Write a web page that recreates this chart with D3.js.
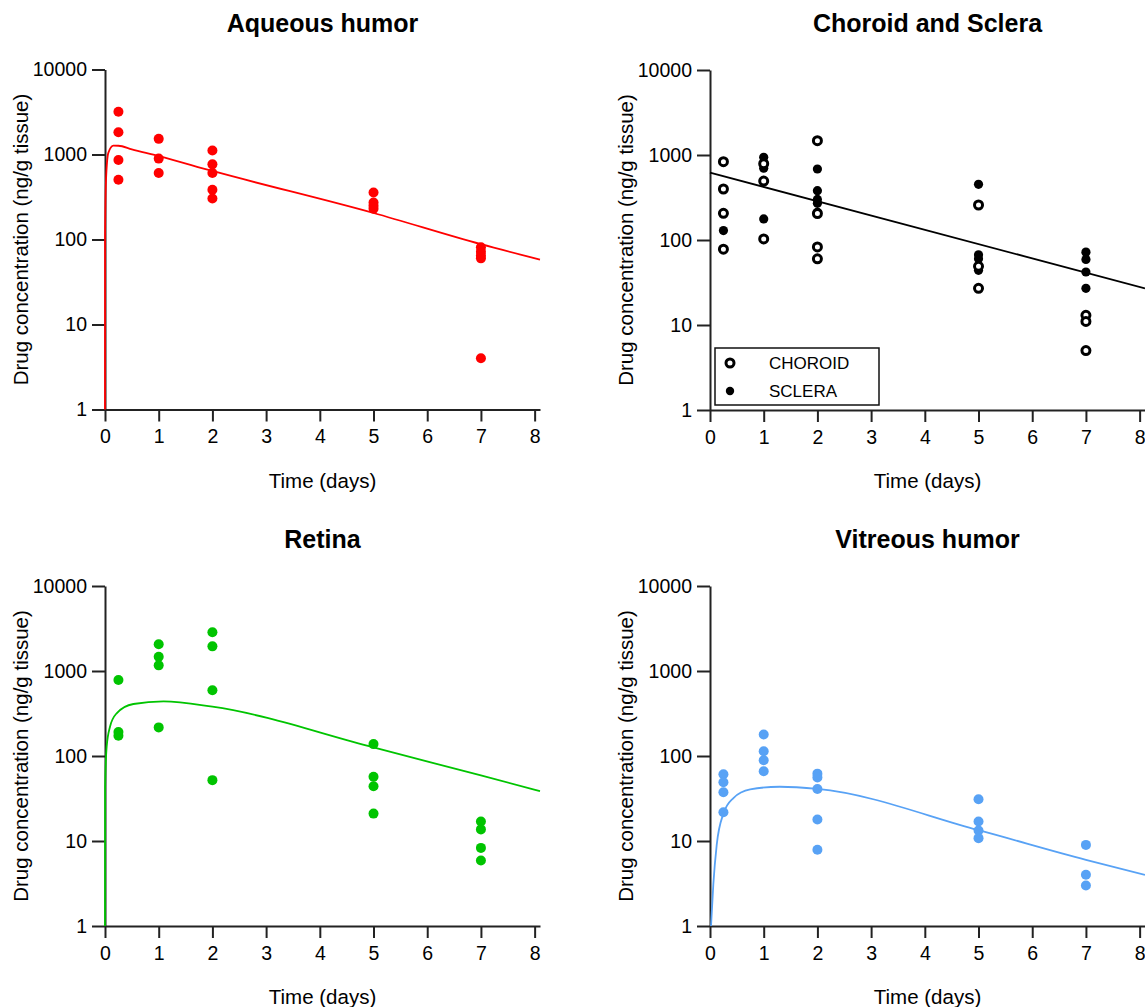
<!DOCTYPE html>
<html>
<head>
<meta charset="utf-8">
<script src="https://cdn.jsdelivr.net/npm/d3@7"></script>
<style>
  body { margin: 0; background: #fff; }
  svg { display: block; font-family: "Liberation Sans", Arial, sans-serif; }
</style>
</head>
<body>
<svg id="chart" width="1145" height="1007"></svg>
<script>
// ---- data: [time (days), ng/g tissue] ----
var yTicks = [1, 10, 100, 1000, 10000];
var xTicks = [0, 1, 2, 3, 4, 5, 6, 7, 8];

var aqueousPts = [
  [0.25, 3185], [0.25, 1830], [0.25, 863], [0.25, 505],
  [1, 1528], [1, 895], [1, 606],
  [2, 1112], [2, 766], [2, 606], [2, 385], [2, 304],
  [5, 358], [5, 273], [5, 250], [5, 230],
  [7, 81], [7, 72], [7, 65], [7, 60], [7, 4]
];
var aqueousFit = [[0, 1], [0.001, 108], [0.019, 506], [0.062, 1045], [0.155, 1270],
  [0.25, 1268], [0.5, 1150], [1, 960], [2, 640], [5, 205], [7, 88], [8.1, 58]];

var choroidPts = [
  [0.25, 834], [0.25, 398], [0.25, 206], [0.25, 78],
  [1, 790], [1, 494], [1, 103],
  [2, 1473], [2, 205], [2, 83], [2, 60],
  [5, 258], [5, 49], [5, 27],
  [7, 13], [7, 11], [7, 5]
];
var scleraPts = [
  [0.25, 129],
  [1, 940], [1, 798], [1, 698], [1, 177],
  [2, 684], [2, 380], [2, 300], [2, 270], [2, 212],
  [5, 452], [5, 67], [5, 60], [5, 44],
  [7, 72], [7, 59], [7, 42], [7, 27]
];
var choroidFit = [[0, 620], [8.1, 27]];

var retinaPts = [
  [0.25, 784], [0.25, 192], [0.25, 173],
  [1, 2061], [1, 1473], [1, 1165], [1, 217],
  [2, 2851], [2, 1950], [2, 593], [2, 52],
  [5, 138], [5, 57], [5, 44], [5, 21],
  [7, 17], [7, 13.7], [7, 8.3], [7, 5.9]
];
var retinaFit = [[0, 1], [0.002, 43], [0.031, 129], [0.093, 221], [0.217, 318],
  [0.528, 409], [1.09, 440], [2, 380], [5, 126], [7, 59], [8.1, 38.7]];

var vitreousPts = [
  [0.25, 61], [0.25, 49], [0.25, 37.4], [0.25, 21.8],
  [1, 179], [1, 114], [1, 89], [1, 66],
  [2, 62], [2, 56], [2, 41], [2, 17.9], [2, 7.9],
  [5, 31], [5, 17], [5, 13.3], [5, 10.8],
  [7, 9], [7, 4], [7, 3]
];
var vitreousFit = [[0.019, 1], [0.062, 3.1], [0.125, 9], [0.25, 21], [0.436, 32],
  [0.748, 40.5], [1.3, 43.5], [2, 41], [5, 13.4], [7, 6.0], [8.1, 4.0]];

var svg = d3.select('#chart');
var W = 435, H = 340;

var x = d3.scaleLinear().domain([0, 8.1]).range([0, W]);
var y = d3.scaleLog().domain([1, 10000]).range([H, 0]);

var line = d3.line()
  .x(d => x(d[0]))
  .y(d => y(d[1]))
  .curve(d3.curveMonotoneX);

function drawPanel(ox, oy, title){
  var g = svg.append('g').attr('transform', `translate(${ox},${oy})`);

  var ya = g.append('g')
    .call(d3.axisLeft(y).tickValues(yTicks).tickFormat(d3.format('d'))
      .tickSize(13).tickSizeOuter(0).tickPadding(5));
  var xa = g.append('g')
    .attr('transform', `translate(0,${H})`)
    .call(d3.axisBottom(x).tickValues(xTicks).tickFormat(d3.format('d'))
      .tickSize(12).tickSizeOuter(0).tickPadding(8));

  [ya, xa].forEach(a => {
    a.selectAll('path, line').attr('stroke', '#222').attr('stroke-width', 2);
    a.selectAll('text').attr('fill', '#000').style('font-size', '19.5px');
  });

  g.append('text')
    .attr('x', W / 2).attr('y', -38)
    .attr('text-anchor', 'middle')
    .style('font-size', '25px').style('font-weight', 'bold')
    .text(title);

  g.append('text')
    .attr('x', W / 2).attr('y', H + 78)
    .attr('text-anchor', 'middle')
    .style('font-size', '20.5px')
    .text('Time (days)');

  g.append('text')
    .attr('transform', `translate(-77,${H / 2}) rotate(-90)`)
    .attr('text-anchor', 'middle')
    .style('font-size', '20.5px')
    .text('Drug concentration (ng/g tissue)');

  return g;
}

function drawDots(g, pts, r, color){
  g.append('g').selectAll('circle')
    .data(pts)
    .join('circle')
    .attr('cx', d => x(d[0]))
    .attr('cy', d => y(d[1]))
    .attr('r', r)
    .attr('fill', color);
}

function drawFit(g, pts, color){
  g.append('path')
    .datum(pts)
    .attr('d', line)
    .attr('fill', 'none')
    .attr('stroke', color)
    .attr('stroke-width', 1.8);
}

// Aqueous humor
var p1 = drawPanel(105, 69.5, 'Aqueous humor');
drawDots(p1, aqueousPts, 5, '#ff0000');
drawFit(p1, aqueousFit, '#ff0000');

// Choroid and Sclera
var p2 = drawPanel(710, 70, 'Choroid and Sclera');
drawFit(p2, choroidFit, '#000');
drawDots(p2, scleraPts, 4.6, '#000');
p2.append('g').selectAll('circle')
  .data(choroidPts)
  .join('circle')
  .attr('cx', d => x(d[0]))
  .attr('cy', d => y(d[1]))
  .attr('r', 4)
  .attr('fill', '#fff')
  .attr('stroke', '#000')
  .attr('stroke-width', 3);

// legend
var lg = p2.append('g').attr('transform', 'translate(5,278)');
lg.append('rect')
  .attr('width', 164).attr('height', 57)
  .attr('fill', '#fff').attr('stroke', '#111').attr('stroke-width', 1.5);
lg.append('circle').attr('cx', 15).attr('cy', 15).attr('r', 4)
  .attr('fill', '#fff').attr('stroke', '#000').attr('stroke-width', 3);
lg.append('circle').attr('cx', 15).attr('cy', 43).attr('r', 4.2).attr('fill', '#000');
lg.append('text').attr('x', 54).attr('y', 21).style('font-size', '17px').text('CHOROID');
lg.append('text').attr('x', 54).attr('y', 49).style('font-size', '17px').text('SCLERA');

// Retina
var p3 = drawPanel(105, 586, 'Retina');
drawDots(p3, retinaPts, 5, '#00c400');
drawFit(p3, retinaFit, '#00c400');

// Vitreous humor
var p4 = drawPanel(710, 586, 'Vitreous humor');
drawDots(p4, vitreousPts, 5, '#58a2f5');
drawFit(p4, vitreousFit, '#58a2f5');
</script>
</body>
</html>
